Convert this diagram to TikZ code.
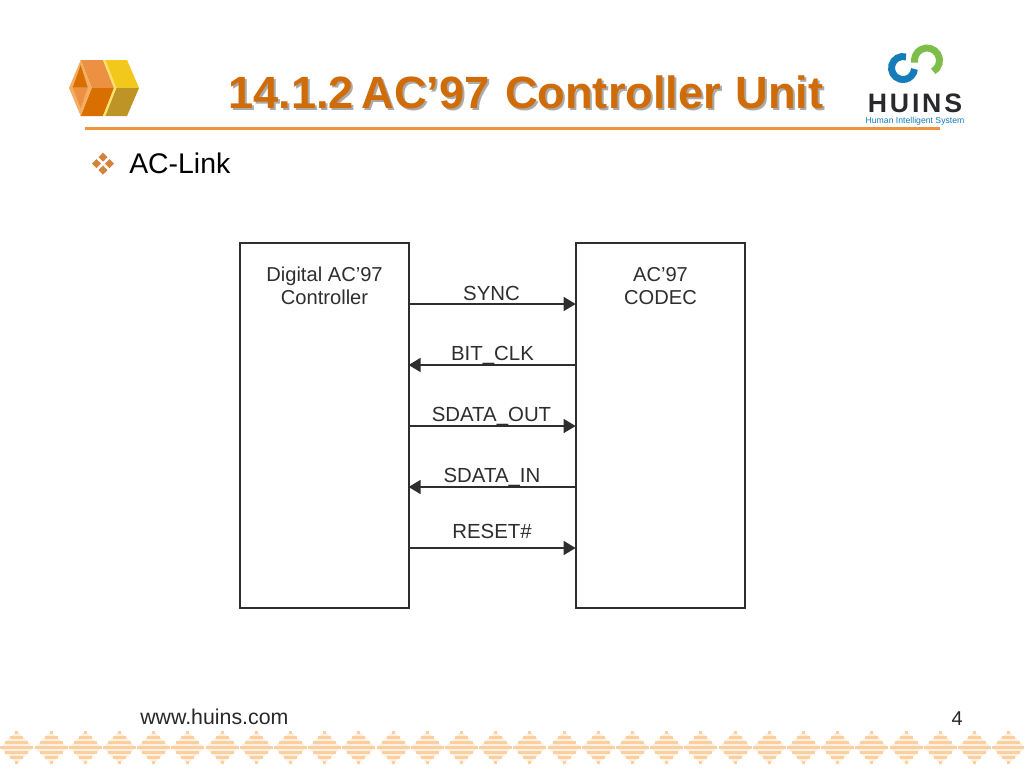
\documentclass[tikz,border=0pt]{standalone}
\usepackage{fontspec}
\setmainfont{Liberation Sans}
\usetikzlibrary{arrows.meta}
\definecolor{ttl}{HTML}{D06C08}
\definecolor{ln}{HTML}{2E2E2E}
\definecolor{rul}{HTML}{F0923E}
\definecolor{hexa}{HTML}{EC9142}
\definecolor{hexb}{HTML}{D96F00}
\definecolor{hexc}{HTML}{F4AE63}
\definecolor{hexd}{HTML}{F2C81C}
\definecolor{hexe}{HTML}{BE9426}
\definecolor{hexf}{HTML}{FBE06A}
\definecolor{strp}{HTML}{FCCF9F}
\definecolor{strq}{HTML}{FEF0E2}
\definecolor{logob}{RGB}{20,125,185}
\definecolor{logog}{RGB}{125,190,75}
\tikzset{
  x=0.75pt,y=-0.75pt,
  unitbox/.style={draw=ln,line width=1.5pt,minimum width=126.75pt,minimum height=273.75pt,inner sep=0pt,outer sep=0pt},
  boxlabel/.style={text=ln,font=\fontsize{15.1pt}{17.2pt}\selectfont,align=center,inner sep=0pt},
  sig/.style={draw=ln,line width=1.2pt,-{Triangle[length=9pt,width=10.5pt]}},
  siglabel/.style={text=ln,font=\fontsize{15.3pt}{17pt}\selectfont,inner sep=0pt,anchor=base},
}
\begin{document}
\begin{tikzpicture}
\useasboundingbox (0,0) rectangle (1024,768);
\fill[white] (0,0) rectangle (1024,768);
% hexagon emblem
\fill[hexa] (80.7,60)--(103,60)--(114,88)--(91.7,88)--cycle;
\fill[hexb] (91.7,88)--(114,88)--(103,116)--(80.7,116)--cycle;
\fill[hexc] (69,88)--(80.7,60)--(91.7,88)--(80.7,116)--cycle;
\fill[hexb] (80.7,65)--(87.7,87.5)--(72.7,87.5)--cycle;
\fill[hexa] (72.7,87.5)--(87.7,87.5)--(80.7,108)--cycle;
\fill[hexf] (103,60)--(114,88)--(103,116)--(105.5,116)--(116.5,88)--(105.5,60)--cycle;
\fill[hexd] (105.5,60)--(127,60)--(139,88)--(116.5,88)--cycle;
\fill[hexe] (116.5,88)--(139,88)--(127,116)--(105.5,116)--cycle;
% HUINS logo
\draw[logob,line width=5.2pt] (903,68) ++(-75:11.5) arc[start angle=-75,end angle=-355,radius=11.5];
\draw[logog,line width=5.2pt] (927,60.5) ++(60:12.5) arc[start angle=60,end angle=-190,radius=12.5];
\node[inner sep=0pt,text={rgb,255:red,40;green,40;blue,45},font=\fontsize{20pt}{20pt}\selectfont\bfseries,anchor=base] (huins) at (915,112.5) {H\kern2.1pt U\kern2.1pt I\kern2.1pt N\kern2.1pt S};
\node[inner sep=0pt,text=logob,font=\fontsize{6.5pt}{6pt}\selectfont,anchor=base] (tag) at (915,123) {Human Intelligent System};
% title
\node[inner sep=0pt,anchor=base west,text={rgb,255:red,170;green,170;blue,170},font=\fontsize{33.9pt}{36pt}\selectfont\bfseries] (titleshadow) at (230,110) {14.1.2 \kern-3.75pt AC’97 \kern2.25pt Controller \kern1.5pt Unit};
\node[inner sep=0pt,anchor=base west,text=ttl,font=\fontsize{33.9pt}{36pt}\selectfont\bfseries] (title) at (228,108) {14.1.2 \kern-3.75pt AC’97 \kern2.25pt Controller \kern1.5pt Unit};
\fill[rul] (85,126.5) rectangle (940,129.5);
% bullet
\foreach \cx/\cy in {103/157,103/170,96.5/163.5,109.5/163.5}{
  \fill[hexa!90!black] (\cx-4.5,\cy)--(\cx,\cy-4.5)--(\cx+4.5,\cy)--(\cx,\cy+4.5)--cycle;
}
\node[inner sep=0pt,anchor=base west,text=black,font=\fontsize{21.3pt}{24pt}\selectfont] (bul) at (129,173) {AC-Link};
% boxes
\node[unitbox,anchor=north west] (ctl) at (239.6,243.4) {};
\node[unitbox,anchor=north west] (cod) at (575.6,243.4) {};
\node[boxlabel] (ctltext) at (324.5,286) {Digital AC'97\\Controller};
\node[boxlabel] (codtext) at (660.5,286) {AC'97\\CODEC};
% signals
\coordinate (s1) at (0,304);
\coordinate (s2) at (0,365);
\coordinate (s3) at (0,426);
\coordinate (s4) at (0,487);
\coordinate (s5) at (0,548);
\draw[sig] (ctl.east |- s1) -- (cod.west |- s1);
\draw[sig] (cod.west |- s2) -- (ctl.east |- s2);
\draw[sig] (ctl.east |- s3) -- (cod.west |- s3);
\draw[sig] (cod.west |- s4) -- (ctl.east |- s4);
\draw[sig] (ctl.east |- s5) -- (cod.west |- s5);
\node[siglabel] (l1) at (491.5,300) {SYNC};
\node[siglabel] (l2) at (492.5,360) {BIT\_CLK};
\node[siglabel] (l3) at (491.5,421) {SDATA\_OUT};
\node[siglabel] (l4) at (492,482) {SDATA\_IN};
\node[siglabel] (l5) at (492,538) {RESET\#};
% footer
\node[inner sep=0pt,anchor=base west,text={rgb,255:red,40;green,40;blue,40},font=\fontsize{16pt}{18pt}\selectfont] (web) at (140,724) {www.huins.com};
\node[inner sep=0pt,anchor=base east,text={rgb,255:red,40;green,40;blue,40},font=\fontsize{15pt}{18pt}\selectfont] (pg) at (963,725) {4};
% diamond band
\foreach \i in {0,...,29}{
  \pgfmathsetmacro{\cx}{16.8+34.2*\i}
  \fill[strq] (\cx-16.5,747.5)--(\cx,731)--(\cx+16.5,747.5)--(\cx,764)--cycle;
  \foreach \d in {-15,-10,-5,0,5,10,15}{
    \pgfmathsetmacro{\hw}{16.5-abs(\d)}
    \draw[strp,line width=1.7pt] (\cx-\hw,747.5+\d) -- (\cx+\hw,747.5+\d);
  }
}
\end{tikzpicture}
\end{document}
